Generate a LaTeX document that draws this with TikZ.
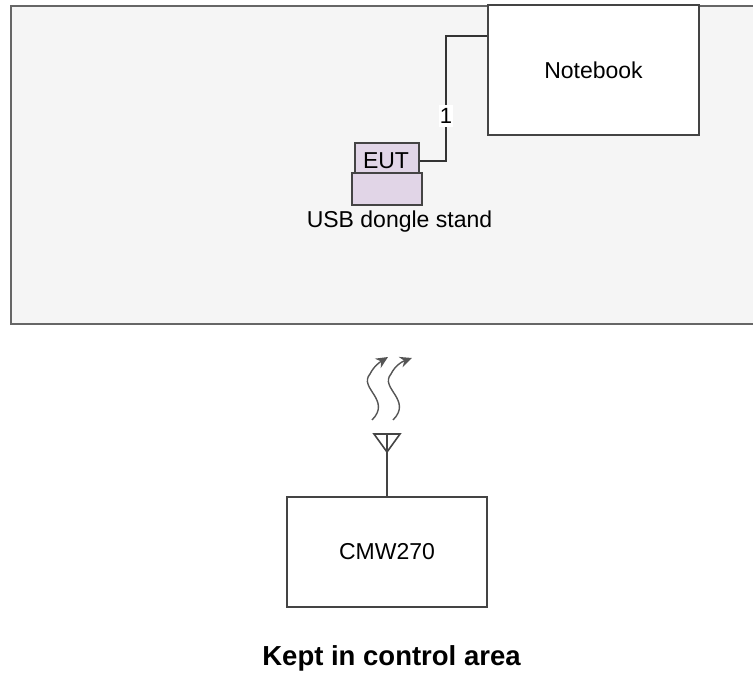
\documentclass[tikz,border=0pt]{standalone}
\usepackage{fontspec}
\setmainfont{Liberation Sans}
\usetikzlibrary{arrows.meta}
\definecolor{roomfill}{HTML}{F5F5F5}
\definecolor{roomline}{HTML}{666666}
\definecolor{boxline}{HTML}{444444}
\definecolor{eutfill}{HTML}{E1D5E7}
\definecolor{wirecol}{HTML}{333333}
\definecolor{wavecol}{HTML}{555555}
\tikzset{
  roombox/.style={draw=roomline, fill=roomfill, line width=1.6pt, rectangle, inner sep=0pt},
  devbox/.style={draw=boxline, fill=white, line width=1.6pt, rectangle, inner sep=0pt,
    font=\fontsize{23}{27}\selectfont},
  eutbox/.style={draw=boxline, fill=eutfill, line width=1.6pt, rectangle, inner sep=0pt,
    font=\fontsize{23}{27}\selectfont},
  lbl/.style={inner sep=0pt, font=\fontsize{23}{27}\selectfont},
  wire/.style={draw=wirecol, line width=1.6pt},
  wave/.style={draw=wavecol, line width=1.4pt, -{Stealth[length=12pt,width=11pt]}},
}
\begin{document}
\begin{tikzpicture}[x=1pt,y=-1pt]
\useasboundingbox (0,0) rectangle (753,674);
% room
\node[roombox, minimum width=780pt, minimum height=318pt, anchor=north west] (room) at (10,5) {};
% notebook
\node[devbox, minimum width=211pt, minimum height=130pt] (notebook) at (593.5,70) {Notebook};
% EUT and stand
\node[eutbox, minimum width=70pt, minimum height=32pt] (stand) at (387,189) {};
\node[eutbox, minimum width=64pt, minimum height=30pt] (eut) at (387,158) {};
\node[lbl, anchor=base] (eutlabel) at (386,169) {EUT};
\node[lbl, anchor=base] (standlabel) at (399.5,227) {USB dongle stand};
% connector
\coordinate (wa) at (446,36);
\coordinate (wb) at (446,161);
\draw[wire] (notebook.west |- wa) -- (wa) -- (wb) -- (eut.east |- wb);
\node[lbl, fill=white, inner ysep=3pt, inner xsep=1pt, font=\fontsize{22}{26}\selectfont] (one) at (446,116) {1};
% CMW270
\node[devbox, minimum width=200pt, minimum height=110pt] (cmw) at (387,552) {CMW270};
% antenna
\coordinate (anttop) at (387,434);
\coordinate (antapex) at (387,452);
\draw[wire, draw=boxline, line join=miter] (374,434) -- (400,434) -- (antapex) -- cycle;
\draw[wire, draw=boxline] (anttop) -- (cmw.north);
% waves
\draw[wave] (372,420) .. controls (392,400) and (358,388) .. (370,374) .. controls (374,366) and (380,362) .. (388,357);
\draw[wave] (393,420) .. controls (413,400) and (379,388) .. (391,374) .. controls (395,366) and (401,362) .. (412,358);
% caption
\node[lbl, anchor=base, font=\bfseries\fontsize{27.5}{32}\selectfont] (caption) at (391.5,665) {Kept in control area};
\end{tikzpicture}
\end{document}
